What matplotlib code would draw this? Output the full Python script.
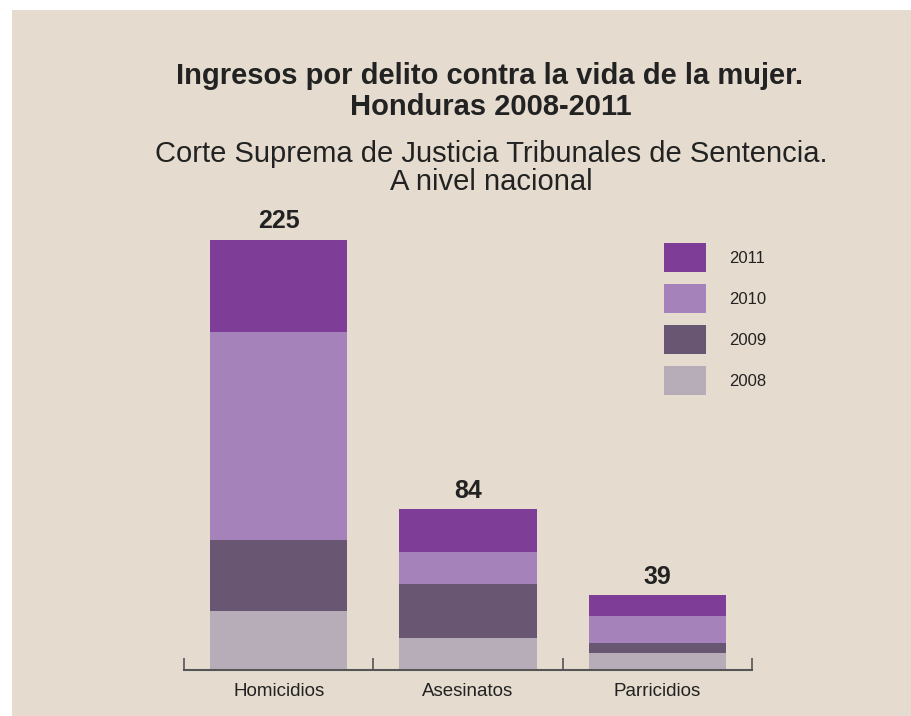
import numpy as np
import matplotlib.pyplot as plt
from matplotlib.patches import Rectangle

plt.rcParams['font.family'] = ['Liberation Sans', 'DejaVu Sans']

# Data
categories = ['Homicidios', 'Asesinatos', 'Parricidios']
years = ['2008', '2009', '2010', '2011']
v2008 = [31, 17, 9]
v2009 = [37, 28, 5]
v2010 = [109, 17, 14]
v2011 = [48, 22, 11]
totals = [225, 84, 39]

colors = ['#b7adb9', '#685673', '#a682bb', '#7e3d96']
bg = '#e5dccf'
txt = '#222222'

W, H = 912, 716
fig = plt.figure(figsize=(W / 100, H / 100), dpi=100)
fig.patch.set_facecolor('white')
# beige panel
fig.patches.append(Rectangle((12 / W, -0.05), 1.1, 1.05 - 10 / H,
                             transform=fig.transFigure, facecolor=bg,
                             edgecolor='none', zorder=-5))

# axes: x from 184 to 752 px, baseline at 670 px, top at 200 px
ax = fig.add_axes([184 / W, (H - 670) / H, (752 - 184) / W, 470 / H])
ax.set_facecolor('none')
px_per_unit = (670 - 240) / 225
ax.set_ylim(0, 470 / px_per_unit)
ax.set_xlim(-0.5, 2.5)

x = np.arange(len(categories))
series = [v2008, v2009, v2010, v2011]
bottom = np.zeros(len(categories))
handles = []
for vals, col, yr in zip(series, colors, years):
    b = ax.bar(x, vals, width=0.724, bottom=bottom, color=col, label=yr,
               zorder=2)
    handles.append(b)
    bottom += np.array(vals)

for xi, t in zip(x, totals):
    ax.annotate(str(t), (xi, t), xytext=(0, 5), textcoords='offset points',
                ha='center', va='bottom', fontsize=18, fontweight='bold',
                color=txt)

for s in ['top', 'left', 'right']:
    ax.spines[s].set_visible(False)
ax.spines['bottom'].set_color('#555555')
ax.spines['bottom'].set_linewidth(1.5)
ax.set_yticks([])
ax.set_xticks([-0.5, 0.5, 1.5, 2.5])
ax.set_xticklabels([])
ax.tick_params(axis='x', which='major', direction='in', length=9,
               width=1.2, color='#555555')
ax.set_xticks(x, minor=True)
ax.set_xticklabels(categories, minor=True, fontsize=13.5, color=txt)
ax.tick_params(axis='x', which='minor', length=0, pad=9)

leg = ax.legend(handles=handles[::-1], labels=years[::-1],
                loc='upper left', bbox_to_anchor=(664 / W, 1 - 243 / H),
                bbox_transform=fig.transFigure, frameon=False, fontsize=12,
                handlelength=2.5, handleheight=2.3, labelspacing=0.72,
                handletextpad=1.4, borderpad=0, borderaxespad=0)
for t in leg.get_texts():
    t.set_color(txt)

fig.text(490 / W, 1 - 76 / H, 'Ingresos por delito contra la vida de la mujer.',
         ha='center', va='center', fontsize=21, fontweight='bold', color=txt)
fig.text(491 / W, 1 - 107 / H, 'Honduras 2008-2011',
         ha='center', va='center', fontsize=21, fontweight='bold', color=txt)
fig.text(491 / W, 1 - 154 / H, 'Corte Suprema de Justicia Tribunales de Sentencia.',
         ha='center', va='center', fontsize=21, color=txt)
fig.text(491 / W, 1 - 182 / H, 'A nivel nacional',
         ha='center', va='center', fontsize=21, color=txt)

fig.savefig('out.png', dpi=100, facecolor=fig.get_facecolor())
